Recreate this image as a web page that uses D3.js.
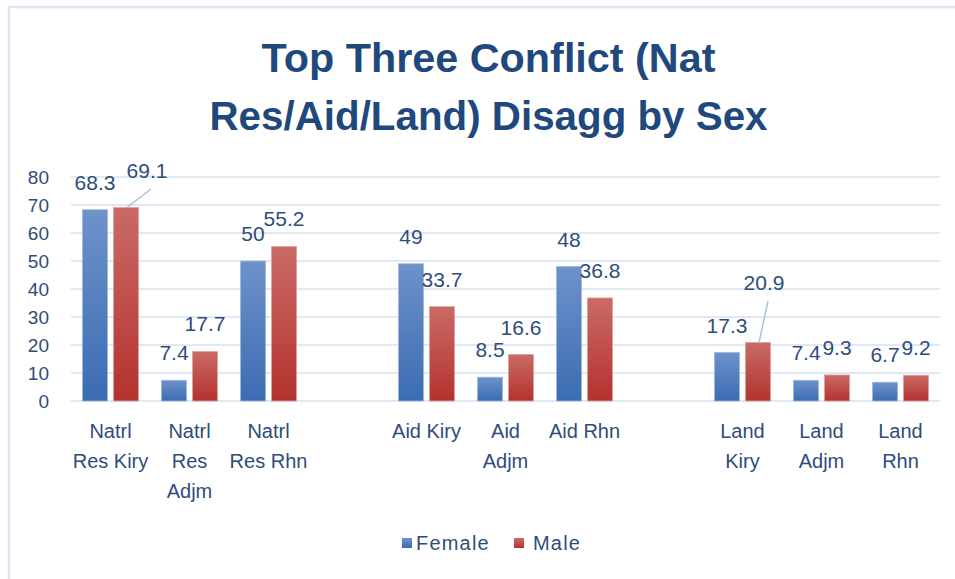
<!DOCTYPE html>
<html>
<head>
<meta charset="utf-8">
<script src="https://cdn.jsdelivr.net/npm/d3@7"></script>
<style>
  html, body { margin: 0; padding: 0; background: #ffffff; }
  svg { display: block; }
  text { font-family: "Liberation Sans", Arial, sans-serif; }
</style>
</head>
<body>
<svg id="chart" width="955" height="579"></svg>
<script>
// Category labels ("\n" marks a line break), blanks separate the three groups
const categories = [
  "Natrl\nRes Kiry", "Natrl\nRes\nAdjm", "Natrl\nRes Rhn", "",
  "Aid Kiry", "Aid\nAdjm", "Aid Rhn", "",
  "Land\nKiry", "Land\nAdjm", "Land\nRhn"
];
const seriesNames = ["Female", "Male"];
const femaleValues = [68.3, 7.4, 50, null, 49, 8.5, 48, null, 17.3, 7.4, 6.7];
const maleValues   = [69.1, 17.7, 55.2, null, 33.7, 16.6, 36.8, null, 20.9, 9.3, 9.2];
const yTickValues  = [0, 10, 20, 30, 40, 50, 60, 70, 80];
const titleLines   = ["Top Three Conflict (Nat", "Res/Aid/Land) Disagg by Sex"];

// Hand-moved data labels (series-index key -> [dx, dy]); these get leader lines
const labelNudges = { "Male-0": [21, -9.5], "Male-8": [6, -32.5] };

const svg = d3.select("#chart");
const W = 955, H = 579;
const plot = { left: 71, right: 940, top: 177, bottom: 401 };
const textColor = "#2e4d7b";

// Chart border
svg.append("path")
  .attr("d", `M9,${H + 2} L9,7 L${W + 2},7`)
  .attr("fill", "none")
  .attr("stroke", "#dce7f4")
  .attr("stroke-width", 2.5);

// Gradients for the bars
const defs = svg.append("defs");
const grads = {
  Female: ["#6e92ca", "#3b6cb2"],
  Male:   ["#ca6a66", "#b4322e"]
};
Object.entries(grads).forEach(([name, [top, bottom]]) => {
  const g = defs.append("linearGradient")
    .attr("id", "grad-" + name)
    .attr("x1", 0).attr("y1", 0).attr("x2", 0).attr("y2", 1);
  g.append("stop").attr("offset", "0%").attr("stop-color", top);
  g.append("stop").attr("offset", "100%").attr("stop-color", bottom);
});

// Scales
const x = d3.scaleBand()
  .domain(d3.range(categories.length))
  .range([plot.left, plot.right])
  .paddingInner(0).paddingOuter(0);
const xSub = d3.scaleBand()
  .domain(seriesNames)
  .range([0, x.bandwidth()])
  .paddingInner(0.194).paddingOuter(0.371);
const y = d3.scaleLinear().domain([0, 80]).range([plot.bottom, plot.top]);

// Gridlines
svg.append("g")
  .selectAll("line")
  .data(yTickValues)
  .join("line")
  .attr("x1", plot.left).attr("x2", plot.right)
  .attr("y1", d => y(d)).attr("y2", d => y(d))
  .attr("stroke", "#d6e1f0")
  .attr("stroke-width", 1.6);

// Y axis labels
const yAxis = d3.axisLeft(y).tickValues(yTickValues).tickSize(0).tickPadding(0);
const yAxisG = svg.append("g")
  .attr("transform", "translate(49,0)")
  .call(yAxis);
yAxisG.select(".domain").remove();
yAxisG.selectAll("text")
  .attr("fill", textColor)
  .attr("font-size", 19)
  .attr("font-family", "Liberation Sans, Arial, sans-serif")
  .attr("dy", "0.36em");

// Bars
const series = [
  { name: "Female", values: femaleValues },
  { name: "Male", values: maleValues }
];
const barData = [];
series.forEach(s => {
  s.values.forEach((v, i) => {
    if (v !== null) barData.push({ series: s.name, i, value: v });
  });
});

svg.append("g")
  .selectAll("rect")
  .data(barData)
  .join("rect")
  .attr("x", d => x(d.i) + xSub(d.series))
  .attr("y", d => y(d.value))
  .attr("width", xSub.bandwidth())
  .attr("height", d => y(0) - y(d.value))
  .attr("fill", d => "url(#grad-" + d.series + ")")
  .attr("stroke", d => d.series === "Female" ? "#9db6dd" : "#e0a09d")
  .attr("stroke-width", 0.8);

// Data labels
const labelPos = d => {
  const cx = x(d.i) + xSub(d.series) + xSub.bandwidth() / 2;
  const base = y(d.value) - 20;
  const n = labelNudges[d.series + "-" + d.i];
  return n ? { x: cx + n[0], y: base + n[1], cx, nudged: true } : { x: cx, y: base, cx, nudged: false };
};

// Leader lines for moved labels
svg.append("g")
  .selectAll("line")
  .data(barData.filter(d => labelPos(d).nudged))
  .join("line")
  .attr("x1", d => labelPos(d).cx + 1)
  .attr("y1", d => y(d.value))
  .attr("x2", d => labelPos(d).x + 4)
  .attr("y2", d => labelPos(d).y + 11)
  .attr("stroke", "#a9c1e2")
  .attr("stroke-width", 1.5);

svg.append("g")
  .selectAll("text")
  .data(barData)
  .join("text")
  .attr("x", d => labelPos(d).x)
  .attr("y", d => labelPos(d).y)
  .attr("text-anchor", "middle")
  .attr("font-size", 21)
  .attr("fill", textColor)
  .text(d => d3.format("~g")(d.value));

// Category labels
const catG = svg.append("g");
categories.forEach((c, i) => {
  if (!c) return;
  const t = catG.append("text")
    .attr("text-anchor", "middle")
    .attr("font-size", 20)
    .attr("fill", textColor);
  c.split("\n").forEach((line, k) => {
    t.append("tspan")
      .attr("x", x(i) + x.bandwidth() / 2)
      .attr("y", 438 + k * 30)
      .text(line);
  });
});

// Title
const title = svg.append("text")
  .attr("text-anchor", "middle")
  .attr("font-size", 40)
  .attr("font-weight", "bold")
  .attr("fill", "#1f497d");
const titleWidths = [454, 558];
titleLines.forEach((line, k) => {
  title.append("tspan")
    .attr("x", 488.5)
    .attr("y", 72 + k * 58)
    .attr("textLength", titleWidths[k])
    .attr("lengthAdjust", "spacingAndGlyphs")
    .text(line);
});

// Legend
const legendItems = [
  { name: "Female", x: 402, gap: 14 },
  { name: "Male", x: 514, gap: 19 }
];
const lg = svg.append("g");
legendItems.forEach(item => {
  lg.append("rect")
    .attr("x", item.x).attr("y", 538)
    .attr("width", 10).attr("height", 10)
    .attr("fill", "url(#grad-" + item.name + ")");
  lg.append("text")
    .attr("x", item.x + item.gap)
    .attr("y", 550)
    .attr("font-size", 20)
    .attr("letter-spacing", 1.2)
    .attr("fill", textColor)
    .text(item.name);
});
</script>
</body>
</html>
